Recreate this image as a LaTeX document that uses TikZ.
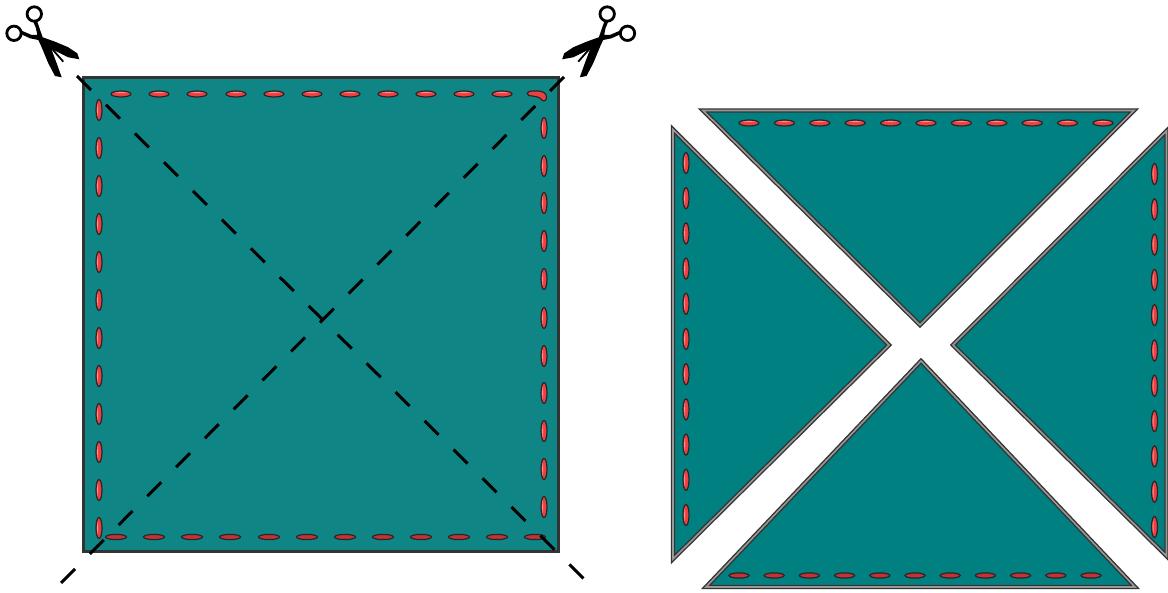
\documentclass[tikz,border=0pt]{standalone}
\definecolor{cloth}{HTML}{108585}
\definecolor{clothcut}{HTML}{008080}
\definecolor{thread}{HTML}{EE3F43}
\definecolor{threaddark}{HTML}{C23236}
\definecolor{threadpale}{HTML}{F89090}
\tikzset{
	stitchbox/.style={draw=black!85,fill=thread,line width=1.2},
	stitchdark/.style={draw=black!85,fill=threaddark,line width=1.2},
	cutpiece/.style={fill=clothcut,draw=black!80,double=black!40,double distance=1.6,line width=1.4,line join=miter},
	cutline/.style={draw=black,line width=3,dash pattern=on 19.8 off 21},
	hstitch/.pic={
		\draw[stitchbox](0,0)ellipse(10 and 3);
		\fill[threadpale](0,-1.3)ellipse(6.5 and .5);
	},
	vstitch/.pic={
		\draw[stitchbox](0,0)ellipse(3 and 10.5);
		\fill[threadpale](-1.3,0)ellipse(.5 and 6.5);
	},
	scissors/.pic={
		\draw[line width=2.8](-10.7,-28)circle(7.2);
		\draw[line width=2.8](-31,-8.7)circle(7.2);
		\fill(-11.7,-20.3)--(-7.7,-20.3)--(-4.3,-10.3)--(-2.3,-4.7)--(10,-.3)--(23.3,5.3)--(32.3,11.3)--(34.3,17.3)--(23.3,15.3)--(10,8.7)--(6.7,8)--(11.7,21.3)--(16.7,35.3)--(10,34)--(3.3,21.3)--(-4.3,3)--(-6.7,-2)--(-15,-3.7)--(-24.3,-8)--(-23.3,-11.3)--(-13.3,-7)--(-7.7,-7)--(-9,-13.7)--cycle;
		\draw[line width=1.8](8,8)--(18.3,19.7);
	}
}
\begin{document}
\begin{tikzpicture}[x=1pt,y=-1pt]
	\useasboundingbox(0,0)rectangle(1168,593);
	% whole square
	\draw[fill=cloth,draw=black!80,line width=3](83,78)rectangle(558,551);
	\foreach \x in {121,159,197,236,274,312,350,388,426,464,502}
		\path(\x,94)pic{hstitch};
	\foreach \x in {116,154,192,230,269,307,345,383,421,459,497,535}
		\draw[stitchdark](\x,537)ellipse(10.5 and 2.6);
	\foreach \i in {0,...,11}
		\path(99,{110+38*\i})pic{vstitch};
	\foreach \y in {128,166,203,241,279,318,356,393,431,469,507}
		\path(544,\y)pic{vstitch};
	\draw[stitchbox](529,91.5)..controls(536,90.5)and(546,90)..(546.5,97)..controls(546.5,101.5)and(543,102)..(541,99)..controls(539,96.5)and(534,96.5)..(529,95.5)..controls(526.5,94.5)and(526.5,92.5)..(529,91.5)--cycle;
	% cut lines
	\coordinate(cuta)at(77,76);
	\coordinate(cutb)at(584,579);
	\coordinate(cutc)at(564,77);
	\coordinate(cutd)at(60,584);
	\draw[cutline](cuta)--(cutb);
	\draw[cutline](cutc)--(cutd);
	\path(45,42)pic{scissors};
	\path(596.5,42)pic[xscale=-1]{scissors};
	% four pieces
	\draw[cutpiece](703,110.5)--(1134,110.5)--(920,325)--cycle;
	\draw[cutpiece](673,129.5)--(889,345)--(673,559)--cycle;
	\draw[cutpiece](1166.5,131)--(953,345)--(1166.5,556)--cycle;
	\draw[cutpiece](706,587)--(921,361)--(1135,587)--cycle;
	\foreach \i in {0,...,10}
		\path({749+35.4*\i},123)pic{hstitch};
	\foreach \i in {0,...,10}
		\draw[stitchdark]({739+35.2*\i},575.5)ellipse(10 and 2.6);
	\foreach \i in {0,...,10}
		\path(686,{163+35.2*\i})pic{vstitch};
	\foreach \i in {0,...,10}
		\path(1154.5,{174+35.3*\i})pic{vstitch};
\end{tikzpicture}
\end{document}
